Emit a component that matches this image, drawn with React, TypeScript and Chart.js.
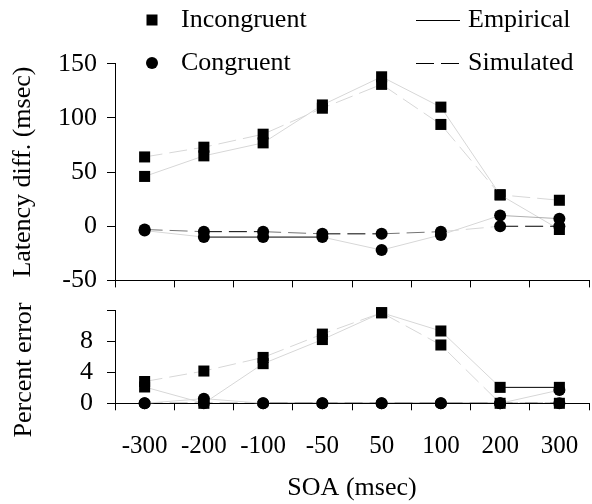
import React, { useEffect, useRef } from 'react';
import { Chart, registerables } from 'chart.js';

Chart.register(...registerables);

const FONT = '"Liberation Serif", "Times New Roman", serif';

const categories = ['-300', '-200', '-100', '-50', '50', '100', '200', '300'];

const latencyIncongruentEmpirical = [46, 65, 77, 112, 138, 110, 29, -3];
const latencyIncongruentSimulated = [64, 73, 85, 109, 131, 94, 29, 24];
const latencyCongruentEmpirical = [-4, -10, -10, -10, -22, -8, 10, 7];
const latencyCongruentSimulated = [-3, -5, -5, -7, -7, -5, 0, 0];

const errorIncongruentEmpirical = [2.1, 0, 5.1, 8.2, 11.65, 9.3, 2.05, 2.05];
const errorIncongruentSimulated = [2.8, 4.15, 5.9, 8.9, 11.65, 7.5, 0, 0];
const errorCongruentEmpirical = [0, 0.6, 0, 0, 0, 0, 0, 1.7];
const errorCongruentSimulated = [0, 0, 0, 0, 0, 0, 0, 0];

const latencyTicks = [-50, 0, 50, 100, 150];
const errorTicks = [0, 4, 8, 12];
const errorTickLabels = ['0', '4', '8', ''];

const markerLegend = ['Incongruent', 'Congruent'];
const lineLegend = ['Empirical', 'Simulated'];

const latencyTitle = 'Latency diff. (msec)';
const errorTitle = 'Percent error';
const xTitle = 'SOA (msec)';

function segColor(ctx: any) {
  const dy = Math.abs(ctx.p1.y - ctx.p0.y);
  const t = Math.min(1, dy / 4);
  const g = Math.round(t * 215);
  return `rgb(${g},${g},${g})`;
}

function makeDataset(label: string, data: number[], shape: string, dashed: boolean) {
  return {
    label,
    data,
    pointStyle: shape,
    pointRadius: shape === 'rect' ? 7.8 : 6,
    pointHoverRadius: shape === 'rect' ? 7.8 : 6,
    pointBackgroundColor: '#000',
    pointBorderColor: '#000',
    pointBorderWidth: 0,
    borderColor: '#000',
    borderWidth: 1,
    borderDash: dashed ? [18, 7] : [],
    segment: { borderColor: segColor },
    fill: false,
    tension: 0,
    clip: false as any,
  };
}

function zeroPadding(axis: any) {
  axis.paddingTop = 0;
  axis.paddingBottom = 0;
  axis.paddingLeft = 0;
  axis.paddingRight = 0;
}

const legendPlugin = {
  id: 'customLegend',
  afterDraw(chart: any) {
    const ctx = chart.ctx;
    ctx.save();
    ctx.fillStyle = '#000';
    ctx.strokeStyle = '#000';
    ctx.font = `26px ${FONT}`;
    ctx.textBaseline = 'middle';
    ctx.textAlign = 'left';
    const rows = [20, 63];
    ctx.fillRect(152 - 5.5, rows[0] - 5.5, 11, 11);
    ctx.beginPath();
    ctx.arc(152, rows[1], 6, 0, Math.PI * 2);
    ctx.fill();
    ctx.fillText(markerLegend[0], 181, rows[0]);
    ctx.fillText(markerLegend[1], 181, rows[1]);
    ctx.lineWidth = 1;
    ctx.beginPath();
    ctx.moveTo(416, rows[0] + 0.5);
    ctx.lineTo(460, rows[0] + 0.5);
    ctx.stroke();
    ctx.setLineDash([18, 7]);
    ctx.beginPath();
    ctx.moveTo(416, rows[1] + 0.5);
    ctx.lineTo(460, rows[1] + 0.5);
    ctx.stroke();
    ctx.setLineDash([]);
    ctx.fillText(lineLegend[0], 468, rows[0]);
    ctx.fillText(lineLegend[1], 468, rows[1]);
    ctx.restore();
  },
};

const errorTitlePlugin = {
  id: 'errorTitle',
  afterDraw(chart: any) {
    const ctx = chart.ctx;
    ctx.save();
    ctx.fillStyle = '#000';
    ctx.font = `26px ${FONT}`;
    ctx.textBaseline = 'middle';
    ctx.textAlign = 'center';
    ctx.translate(24, 75);
    ctx.rotate(-Math.PI / 2);
    ctx.fillText(errorTitle, 0, 0);
    ctx.restore();
  },
};

export default function App() {
  const topRef = useRef<HTMLCanvasElement>(null);
  const botRef = useRef<HTMLCanvasElement>(null);

  useEffect(() => {
    const tickFont = { family: FONT, size: 26 };
    const top = new Chart(topRef.current as HTMLCanvasElement, {
      type: 'line',
      data: {
        labels: categories,
        datasets: [
          makeDataset('Congruent Empirical', latencyCongruentEmpirical, 'circle', false),
          makeDataset('Congruent Simulated', latencyCongruentSimulated, 'circle', true),
          makeDataset('Incongruent Empirical', latencyIncongruentEmpirical, 'rect', false),
          makeDataset('Incongruent Simulated', latencyIncongruentSimulated, 'rect', true),
        ] as any,
      },
      options: {
        responsive: false,
        animation: false,
        layout: { padding: { top: 63.8, left: 0, right: 3, bottom: 0 }, autoPadding: false } as any,
        plugins: { legend: { display: false }, tooltip: { enabled: false } },
        scales: {
          x: {
            type: 'category',
            offset: true,
            grid: { offset: true, drawOnChartArea: false, tickLength: 7, color: '#000', tickColor: '#000' },
            border: { color: '#000', width: 1 },
            ticks: { display: false },
            afterFit: (axis: any) => { axis.height = 300 - 280.4; zeroPadding(axis); },
          },
          y: {
            type: 'linear',
            min: -50,
            max: 150,
            afterBuildTicks: (axis: any) => { axis.ticks = latencyTicks.map((v) => ({ value: v })); },
            grid: { drawOnChartArea: false, tickLength: 8, color: '#000', tickColor: '#000' },
            border: { color: '#000', width: 1 },
            ticks: { font: tickFont, color: '#000', padding: 10, autoSkip: false },
            title: {
              display: true,
              text: latencyTitle,
              font: { family: FONT, size: 26 },
              color: '#000',
              padding: { top: 8, bottom: 0 },
            },
            afterFit: (axis: any) => { axis.width = 115; zeroPadding(axis); },
          },
        },
      } as any,
      plugins: [legendPlugin],
    });

    const bot = new Chart(botRef.current as HTMLCanvasElement, {
      type: 'line',
      data: {
        labels: categories,
        datasets: [
          makeDataset('Congruent Empirical', errorCongruentEmpirical, 'circle', false),
          makeDataset('Congruent Simulated', errorCongruentSimulated, 'circle', true),
          makeDataset('Incongruent Empirical', errorIncongruentEmpirical, 'rect', false),
          makeDataset('Incongruent Simulated', errorIncongruentSimulated, 'rect', true),
        ] as any,
      },
      options: {
        responsive: false,
        animation: false,
        layout: { padding: { top: 15, left: 0, right: 3, bottom: 0 }, autoPadding: false } as any,
        plugins: { legend: { display: false }, tooltip: { enabled: false } },
        scales: {
          x: {
            type: 'category',
            offset: true,
            grid: { offset: true, drawOnChartArea: false, tickLength: 7, color: '#000', tickColor: '#000' },
            border: { color: '#000', width: 1 },
            ticks: { font: { family: FONT, size: 25 }, color: '#000', padding: 21, maxRotation: 0, autoSkip: false },
            title: {
              display: true,
              text: xTitle,
              font: { family: FONT, size: 26 },
              color: '#000',
              padding: { top: 0, bottom: 0 },
            },
            afterFit: (axis: any) => { axis.height = 209 - 15 - 93.3; zeroPadding(axis); },
          },
          y: {
            type: 'linear',
            min: 0,
            max: 12,
            afterBuildTicks: (axis: any) => { axis.ticks = errorTicks.map((v) => ({ value: v })); },
            grid: { drawOnChartArea: false, tickLength: 8, color: '#000', tickColor: '#000' },
            border: { color: '#000', width: 1 },
            ticks: {
              font: tickFont,
              color: '#000',
              padding: 14,
              autoSkip: false,
              callback: (_v: any, i: number) => errorTickLabels[i],
            },
            afterFit: (axis: any) => { axis.width = 115; zeroPadding(axis); },
          },
        },
      } as any,
      plugins: [errorTitlePlugin],
    });

    return () => {
      top.destroy();
      bot.destroy();
    };
  }, []);

  return (
    <div style={{ position: 'fixed', left: 0, top: 0, width: 592, height: 504, background: '#fff' }}>
      <canvas ref={topRef} width={592} height={300} style={{ position: 'absolute', left: 0, top: 0 }} />
      <canvas ref={botRef} width={592} height={209} style={{ position: 'absolute', left: 0, top: 295 }} />
    </div>
  );
}
